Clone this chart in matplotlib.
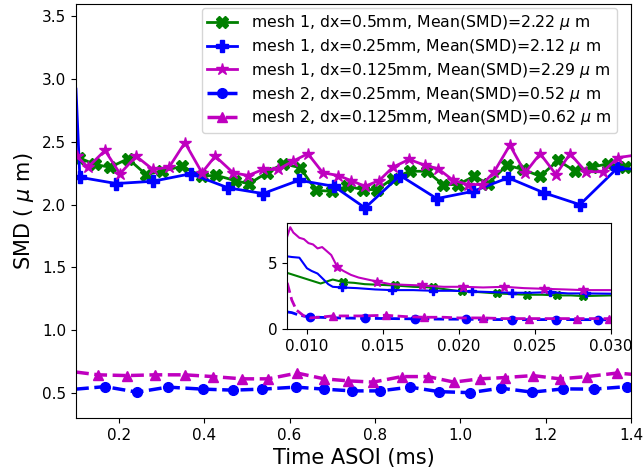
import numpy as np
import matplotlib
matplotlib.use('Agg')
import matplotlib.pyplot as plt

# ---- main plot data (time in ms, SMD in micron) ----
t_m1_05 = [0.107, 0.144, 0.180, 0.222, 0.264, 0.301, 0.348, 0.395, 0.428, 0.472, 0.505, 0.547,
           0.585, 0.625, 0.662, 0.700, 0.735, 0.772, 0.805, 0.842, 0.882, 0.922, 0.959, 0.995,
           1.032, 1.065, 1.109, 1.147, 1.187, 1.229, 1.269, 1.308, 1.346, 1.386]
smd_m1_05 = [2.374, 2.320, 2.298, 2.366, 2.240, 2.266, 2.306, 2.226, 2.234, 2.192, 2.166, 2.254,
             2.326, 2.294, 2.114, 2.106, 2.146, 2.120, 2.120, 2.208, 2.266, 2.266, 2.160, 2.160,
             2.226, 2.166, 2.314, 2.280, 2.226, 2.352, 2.266, 2.298, 2.326, 2.298]

t_m1_025 = [0.100, 0.109, 0.194, 0.280, 0.369, 0.456, 0.538, 0.622, 0.704, 0.777, 0.859, 0.945,
            1.030, 1.112, 1.196, 1.280, 1.367, 1.450]
smd_m1_025 = [2.92, 2.218, 2.168, 2.186, 2.246, 2.134, 2.088, 2.194, 2.146, 1.974, 2.232, 2.048,
              2.106, 2.214, 2.094, 2.000, 2.288, 2.280]

t_m1_0125 = [0.102, 0.128, 0.168, 0.203, 0.241, 0.280, 0.318, 0.355, 0.395, 0.426, 0.468, 0.503,
             0.538, 0.573, 0.608, 0.643, 0.678, 0.714, 0.744, 0.777, 0.810, 0.842, 0.880, 0.917,
             0.948, 0.983, 1.018, 1.051, 1.079, 1.116, 1.152, 1.187, 1.224, 1.257, 1.294, 1.334,
             1.369, 1.420]
smd_m1_0125 = [2.386, 2.298, 2.432, 2.246, 2.386, 2.280, 2.298, 2.494, 2.254, 2.386, 2.254, 2.232,
               2.280, 2.280, 2.346, 2.406, 2.254, 2.232, 2.192, 2.146, 2.192, 2.298, 2.360, 2.314,
               2.286, 2.194, 2.160, 2.160, 2.260, 2.474, 2.254, 2.406, 2.240, 2.406, 2.262, 2.262,
               2.374, 2.400]

t_m2_025 = [0.100, 0.168, 0.243, 0.315, 0.397, 0.468, 0.536, 0.615, 0.681, 0.746, 0.812, 0.882,
            0.950, 1.023, 1.095, 1.168, 1.241, 1.313, 1.390]
smd_m2_025 = [0.530, 0.550, 0.506, 0.546, 0.530, 0.522, 0.530, 0.546, 0.530, 0.516, 0.516, 0.546,
              0.510, 0.502, 0.538, 0.506, 0.532, 0.530, 0.550]

t_m2_0125 = [0.100, 0.152, 0.219, 0.285, 0.355, 0.421, 0.489, 0.550, 0.618, 0.681, 0.737, 0.796,
             0.863, 0.924, 0.985, 1.046, 1.104, 1.170, 1.233, 1.297, 1.367, 1.430]
smd_m2_0125 = [0.666, 0.644, 0.638, 0.644, 0.644, 0.630, 0.612, 0.612, 0.658, 0.612, 0.596, 0.586,
               0.630, 0.630, 0.586, 0.612, 0.622, 0.638, 0.612, 0.630, 0.658, 0.640]

labels = ['mesh 1, dx=0.5mm, Mean(SMD)=2.22 $\\mu$ m',
          'mesh 1, dx=0.25mm, Mean(SMD)=2.12 $\\mu$ m',
          'mesh 1, dx=0.125mm, Mean(SMD)=2.29 $\\mu$ m',
          'mesh 2, dx=0.25mm, Mean(SMD)=0.52 $\\mu$ m',
          'mesh 2, dx=0.125mm, Mean(SMD)=0.62 $\\mu$ m']

# ---- inset data (early times) ----
it_m1_05 = [0.0087, 0.0098, 0.0109, 0.0113, 0.0117, 0.0124, 0.0131, 0.0138, 0.0148, 0.0158, 0.0170,
            0.0183, 0.0192, 0.0202, 0.0213, 0.0225, 0.0235, 0.0245, 0.0255, 0.0265, 0.0274, 0.0282, 0.0300]
iv_m1_05 = [4.25, 3.85, 3.45, 3.6, 3.75, 3.55, 3.5, 3.4, 3.35, 3.3, 3.2,
            3.15, 3.0, 2.85, 2.8, 2.7, 2.65, 2.6, 2.6, 2.55, 2.55, 2.5, 2.55]
imk_m1_05 = [5, 9, 11, 13, 15, 17, 19, 21]

it_m1_025 = [0.0087, 0.0090, 0.0095, 0.0100, 0.0103, 0.0107, 0.0111, 0.0114, 0.0117, 0.0123, 0.0133,
             0.0145, 0.0156, 0.0170, 0.0183, 0.0196, 0.0209, 0.0222, 0.0235, 0.0248, 0.0260, 0.0272,
             0.0284, 0.0300]
iv_m1_025 = [5.5, 5.45, 5.4, 4.6, 4.4, 4.2, 3.75, 3.4, 3.2, 3.15, 3.1,
             3.0, 2.95, 2.95, 2.9, 2.9, 2.85, 2.8, 2.75, 2.75, 2.8, 2.7,
             2.7, 2.68]
imk_m1_025 = [9, 12, 14, 16, 18, 20, 22]

it_m1_0125 = [0.0087, 0.0089, 0.0091, 0.0093, 0.0095, 0.0098, 0.0101, 0.0104, 0.0107, 0.0110, 0.0113,
              0.0116, 0.0120, 0.0124, 0.0129, 0.0134, 0.0140, 0.0146, 0.0155, 0.0164, 0.0176, 0.0190,
              0.0203, 0.0216, 0.0230, 0.0243, 0.0256, 0.0270, 0.0282, 0.0300]
iv_m1_0125 = [7.0, 7.7, 7.3, 7.1, 6.9, 6.8, 6.5, 6.4, 6.1, 6.2, 5.9,
              5.6, 4.7, 4.4, 4.1, 3.9, 3.75, 3.6, 3.4, 3.35, 3.3, 3.2,
              3.2, 3.15, 3.2, 3.1, 3.05, 3.0, 2.95, 2.95]
imk_m1_0125 = [12, 17, 20, 22, 24, 26, 28]

it_m2_025 = [0.0087, 0.0090, 0.0095, 0.0102, 0.0120, 0.0138, 0.0155, 0.0171, 0.0188, 0.0205, 0.0220,
             0.0235, 0.0250, 0.0264, 0.0278, 0.0292, 0.0300]
iv_m2_025 = [1.3, 1.25, 1.05, 0.92, 0.85, 0.82, 0.8, 0.78, 0.76, 0.75, 0.73,
             0.72, 0.72, 0.73, 0.72, 0.72, 0.7]
imk_m2_025 = [3, 5, 7, 9, 11, 13, 15]

it_m2_0125 = [0.0087, 0.0090, 0.0093, 0.0098, 0.0102, 0.0108, 0.0117, 0.0135, 0.0152, 0.0165, 0.0177,
              0.0190, 0.0200, 0.0216, 0.0230, 0.0246, 0.0262, 0.0278, 0.0299, 0.0300]
iv_m2_0125 = [3.5, 2.2, 1.45, 1.0, 0.85, 0.9, 1.0, 1.0, 1.05, 0.95, 0.9,
              0.9, 0.85, 0.85, 0.8, 0.8, 0.8, 0.8, 0.8, 0.8]
imk_m2_0125 = [6, 8, 10, 13, 15, 17, 18]

fs_tick = 11
fig = plt.figure(figsize=(6.44, 4.75), dpi=100)
ax = fig.add_axes([0.118, 0.12, 0.862, 0.872])

ax.plot(t_m1_05, smd_m1_05, '-', color='green', marker='X', ms=8, lw=2, label=labels[0])
ax.plot(t_m1_025, smd_m1_025, '-', color='blue', marker='P', ms=8, lw=2,
        markevery=list(range(1, len(t_m1_025))), label=labels[1])
ax.plot(t_m1_0125, smd_m1_0125, '-', color='m', marker='*', ms=9, lw=2, label=labels[2])
ax.plot(t_m2_025, smd_m2_025, '--', color='blue', marker='o', ms=7, lw=2.5,
        markevery=list(range(1, len(t_m2_025))), label=labels[3])
ax.plot(t_m2_0125, smd_m2_0125, '--', color='m', marker='^', ms=7, lw=2.5,
        markevery=list(range(1, len(t_m2_0125))), label=labels[4])

ax.set_xlim(0.1, 1.4)
ax.set_ylim(0.3, 3.6)
ax.set_xlabel('Time ASOI (ms)', fontsize=15)
ax.set_ylabel('SMD ( $\\mu$ m)', fontsize=15)
ax.tick_params(labelsize=fs_tick)
ax.legend(loc='upper right', bbox_to_anchor=(0.975, 0.99), borderaxespad=0,
          fontsize=11.3, labelspacing=0.3, handlelength=1.9, borderpad=0.35,
          handletextpad=0.9)

# inset
axin = fig.add_axes([0.446, 0.307, 0.502, 0.223])
axin.plot(it_m1_05, iv_m1_05, '-', color='green', marker='X', ms=6, lw=1.5, markevery=imk_m1_05)
axin.plot(it_m1_025, iv_m1_025, '-', color='blue', marker='P', ms=6, lw=1.5, markevery=imk_m1_025)
axin.plot(it_m1_0125, iv_m1_0125, '-', color='m', marker='*', ms=7, lw=1.5, markevery=imk_m1_0125)
axin.plot(it_m2_025, iv_m2_025, '--', color='blue', marker='o', ms=6, lw=2, markevery=imk_m2_025)
axin.plot(it_m2_0125, iv_m2_0125, '--', color='m', marker='^', ms=6, lw=2, markevery=imk_m2_0125)
axin.set_xlim(0.0087, 0.030)
axin.set_ylim(0, 8)
axin.set_yticks([0, 5])
axin.set_xticks([0.010, 0.015, 0.020, 0.025, 0.030])
axin.set_xticklabels(['0.010', '0.015', '0.020', '0.025', '0.030'])
axin.tick_params(labelsize=fs_tick)

fig.savefig('out.png', dpi=100)
